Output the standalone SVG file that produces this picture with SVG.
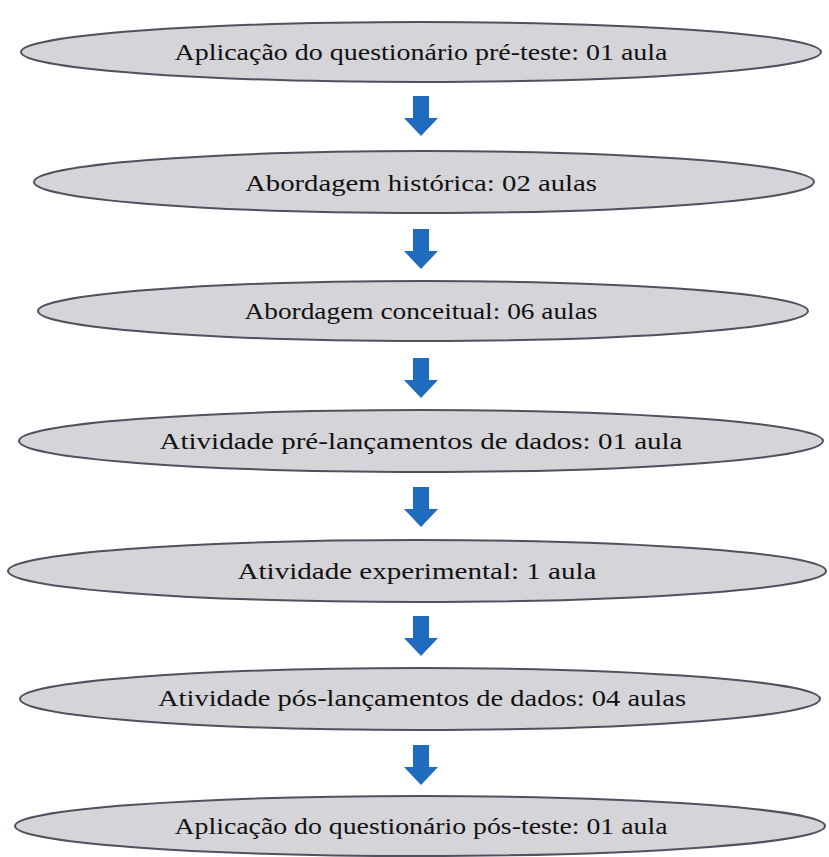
<svg xmlns="http://www.w3.org/2000/svg" width="829" height="857" viewBox="0 0 829 857">
<style>
.n{fill:#d5d4d8;stroke:#4f5160;stroke-width:2}
.t{font-family:"Liberation Serif","Times New Roman",serif;font-size:23px;fill:#111;text-anchor:middle;dominant-baseline:central}
.a{fill:#1f6cbf}
</style>
<defs>
<path id="arr" class="a" d="M-8,0 H8 V22 H17 L0,40 L-17,22 H-8 Z"/>
</defs>
<rect width="829" height="857" fill="#fff"/>
<g id="connectors">
<use href="#arr" x="421" y="96"/>
<use href="#arr" x="421" y="229"/>
<use href="#arr" x="421" y="358"/>
<use href="#arr" x="421" y="487"/>
<use href="#arr" x="421" y="616"/>
<use href="#arr" x="421" y="745"/>
</g>
<g id="n1"><ellipse class="n" cx="421" cy="52" rx="400" ry="30"/><text class="t" x="421" y="52" textLength="493" lengthAdjust="spacingAndGlyphs">Aplicação do questionário pré-teste: 01 aula</text></g>
<g id="n2"><ellipse class="n" cx="424" cy="182" rx="390" ry="31"/><text class="t" x="421" y="183" textLength="352" lengthAdjust="spacingAndGlyphs">Abordagem histórica: 02 aulas</text></g>
<g id="n3"><ellipse class="n" cx="423" cy="311" rx="385" ry="30"/><text class="t" x="421" y="311" textLength="353" lengthAdjust="spacingAndGlyphs">Abordagem conceitual: 06 aulas</text></g>
<g id="n4"><ellipse class="n" cx="421" cy="441" rx="402" ry="31"/><text class="t" x="421" y="441" textLength="523" lengthAdjust="spacingAndGlyphs">Atividade pré-lançamentos de dados: 01 aula</text></g>
<g id="n5"><ellipse class="n" cx="417" cy="571" rx="409" ry="31"/><text class="t" x="417" y="571" textLength="359" lengthAdjust="spacingAndGlyphs">Atividade experimental: 1 aula</text></g>
<g id="n6"><ellipse class="n" cx="420" cy="699" rx="400" ry="31"/><text class="t" x="422" y="698" textLength="528" lengthAdjust="spacingAndGlyphs">Atividade pós-lançamentos de dados: 04 aulas</text></g>
<g id="n7"><ellipse class="n" cx="420" cy="826" rx="405" ry="30"/><text class="t" x="421" y="826" textLength="493" lengthAdjust="spacingAndGlyphs">Aplicação do questionário pós-teste: 01 aula</text></g>
</svg>
